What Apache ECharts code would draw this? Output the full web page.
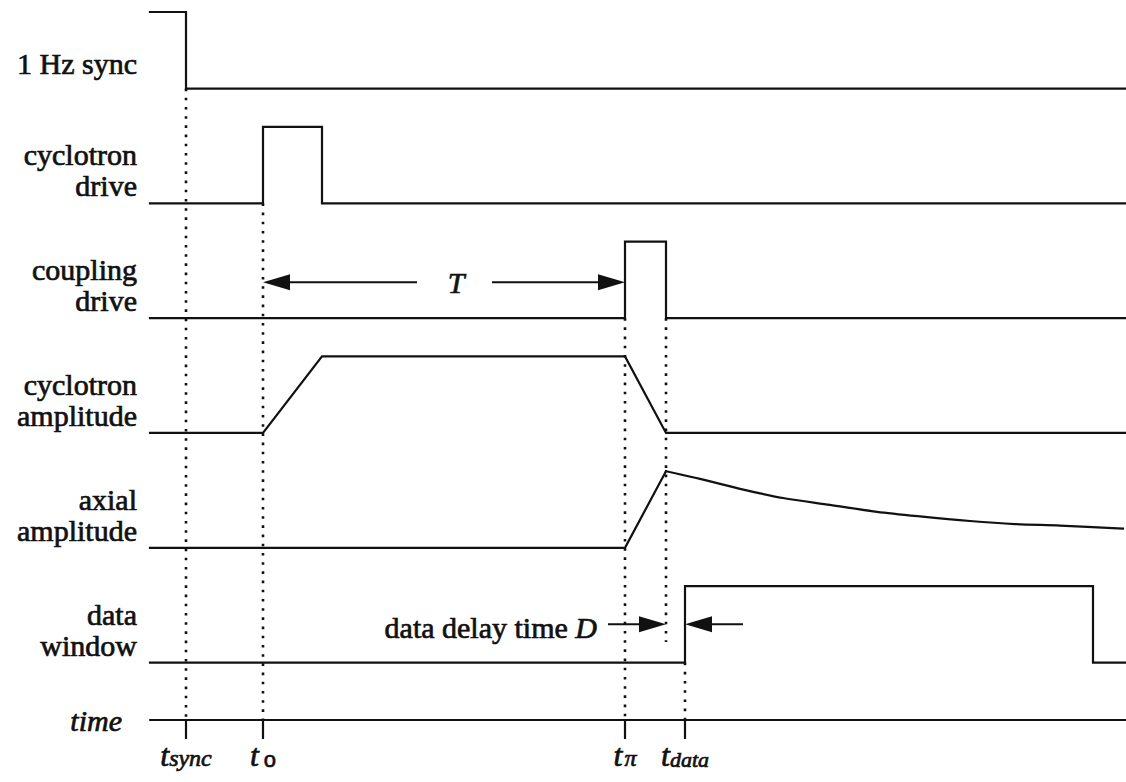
<!DOCTYPE html>
<html>
<head>
<meta charset="utf-8">
<title>Measurement timing sequence</title>
<script src="https://cdn.jsdelivr.net/npm/echarts@6/dist/echarts.min.js"></script>
<style>
  html, body { margin: 0; padding: 0; background: #fff; }
  #chart { width: 1126px; height: 782px; }
</style>
</head>
<body>
<div id="chart"></div>
<script>
// Time is in arbitrary units with t_sync = 0; each trace sits on its own baseline
// and swings one level unit between low and high.
const tStart = -3.6;
const tEnd = 94;

const trackNames = ['1 Hz sync', 'cyclotron\ndrive', 'coupling\ndrive', 'cyclotron\namplitude', 'axial\namplitude', 'data\nwindow'];
const trackBase = [0, -1.5, -3, -4.5, -6, -7.5];
const timeAxisLevel = -8.25;

// Marked instants on the time axis
const tickTimes = [0, 7.7, 43.9, 49.9];
const tickLabels = ['{t|t}{s|sync}', '{t|t}{o|o}', '{t|t}{p|π}', '{t|t}{d|data}'];

// Waveforms: [time, level] pairs relative to each trace baseline
const syncWave = [[-3.6, 1], [0, 1], [0, 0], [94, 0]];
const cycDriveWave = [[-3.6, 0], [7.7, 0], [7.7, 1], [13.6, 1], [13.6, 0], [94, 0]];
const coupDriveWave = [[-3.6, 0], [43.9, 0], [43.9, 1], [48.0, 1], [48.0, 0], [94, 0]];
const cycAmpWave = [[-3.6, 0], [7.7, 0], [13.6, 1], [43.9, 1], [48.0, 0], [94, 0]];
const axialRiseWave = [[-3.6, 0], [43.9, 0], [48.0, 1.0]];
const axialDecayWave = [[48.0, 1.0], [51.4, 0.90], [55.4, 0.77], [59.7, 0.65], [64.4, 0.56], [69.1, 0.47],
                        [73.4, 0.41], [78.4, 0.35], [82.9, 0.31], [87.4, 0.29], [93.7, 0.25]];
const dataWindowWave = [[-3.6, 0], [49.9, 0], [49.9, 1], [90.7, 1], [90.7, 0], [94, 0]];

// Dotted guides: [time, fromLevel, toLevel] in absolute levels
const guideLines = [[0, 0, -8.25], [7.7, -1.5, -8.25], [43.9, -3, -8.25], [48.0, -3, -7.23], [49.9, -7.5, -8.25]];

// Dimension arrows: [tailTime, tipTime, level]
const arrows = [[23.1, 7.7, -2.53], [30.6, 43.9, -2.53], [42.2, 48.0, -7.0], [55.7, 49.9, -7.0]];
// Annotation texts and their [time, level] anchors
const noteText = ['{i|T}', 'data delay time {i|D}'];
const notePos = [[27.0, -2.53], [41.1, -7.04]];

const INK = '#111';
const SERIF = 'Liberation Serif, Times New Roman, Times, serif';
const SANS = 'Liberation Sans, Arial, sans-serif';
// a faint outline in the ink colour gives the type a heavier, print-like weight
const HEAVY = { textBorderColor: INK, textBorderWidth: 0.7 };

function shift(wave, base) {
  return wave.map(p => [p[0], p[1] + base]);
}

function trace(name, data, smooth) {
  return {
    name: name,
    type: 'line',
    data: data,
    showSymbol: false,
    symbol: 'none',
    smooth: smooth || false,
    clip: false,
    silent: true,
    lineStyle: { color: INK, width: 2.2, cap: 'square', join: 'miter' }
  };
}

const series = [
  trace('sync', shift(syncWave, trackBase[0])),
  trace('cyclotron drive', shift(cycDriveWave, trackBase[1])),
  trace('coupling drive', shift(coupDriveWave, trackBase[2])),
  trace('cyclotron amplitude', shift(cycAmpWave, trackBase[3])),
  trace('axial rise', shift(axialRiseWave, trackBase[4])),
  trace('axial decay', shift(axialDecayWave, trackBase[4]), 0.3),
  trace('data window', shift(dataWindowWave, trackBase[5]))
];

guideLines.forEach((g, i) => {
  series.push({
    name: 'guide' + i,
    type: 'line',
    data: [[g[0], g[1]], [g[0], g[2]]],
    showSymbol: false,
    symbol: 'none',
    clip: false,
    silent: true,
    z: 1,
    lineStyle: { color: INK, width: 2.6, type: [2.6, 6.6], cap: 'butt' }
  });
});

series.push({
  name: 'arrows',
  type: 'custom',
  clip: false,
  silent: true,
  data: arrows,
  renderItem: function (params, api) {
    const a = api.coord([api.value(0), api.value(2)]);
    const b = api.coord([api.value(1), api.value(2)]);
    const dir = Math.sign(b[0] - a[0]);
    const L = 27, W = 8;
    return {
      type: 'group',
      children: [
        { type: 'line', shape: { x1: a[0], y1: a[1], x2: b[0] - dir * L * 0.6, y2: b[1] },
          style: { stroke: INK, lineWidth: 2 } },
        { type: 'polygon', shape: { points: [[b[0], b[1]], [b[0] - dir * L, b[1] - W], [b[0] - dir * L, b[1] + W]] },
          style: { fill: INK } }
      ]
    };
  }
});

series.push({
  name: 'notes',
  type: 'custom',
  clip: false,
  silent: true,
  data: notePos,
  renderItem: function (params, api) {
    const p = api.coord([api.value(0), api.value(1)]);
    const i = params.dataIndex;
    return {
      type: 'text',
      x: p[0],
      y: p[1],
      style: {
        text: noteText[i],
        fill: INK,
        stroke: INK,
        lineWidth: 0.7,
        fontFamily: SERIF,
        fontSize: 30,
        align: i === 0 ? 'center' : 'right',
        verticalAlign: 'middle',
        rich: {
          i: { fontFamily: SERIF, fontStyle: 'italic', fontSize: 30 }
        }
      }
    };
  }
});

const chart = echarts.init(document.getElementById('chart'), null, { renderer: 'svg' });
chart.setOption({
  backgroundColor: '#fff',
  animation: false,
  grid: { left: 150, right: 0, top: 12, bottom: 62, containLabel: false },
  xAxis: {
    type: 'value',
    min: tStart,
    max: tEnd,
    name: 'time',
    nameLocation: 'start',
    nameGap: 28,
    nameTextStyle: Object.assign({ fontFamily: SERIF, fontStyle: 'italic', fontSize: 30, color: INK, padding: [6, 0, 0, 0] }, HEAVY),
    axisLine: { show: true, onZero: false, lineStyle: { color: INK, width: 2.2 } },
    axisTick: { show: true, customValues: tickTimes, length: 19, inside: false, lineStyle: { color: INK, width: 2.2 } },
    splitLine: { show: false },
    axisLabel: {
      customValues: tickTimes,
      margin: 20,
      color: INK,
      formatter: function (v) {
        const i = tickTimes.indexOf(v);
        return i >= 0 ? tickLabels[i] : '';
      },
      rich: {
        t: Object.assign({ fontFamily: SERIF, fontStyle: 'italic', fontSize: 32, color: INK, lineHeight: 30 }, HEAVY),
        s: Object.assign({ fontFamily: SERIF, fontStyle: 'italic', fontSize: 24, color: INK, lineHeight: 10, verticalAlign: 'bottom' }, HEAVY),
        d: Object.assign({ fontFamily: SERIF, fontStyle: 'italic', fontSize: 22, color: INK, lineHeight: 12, verticalAlign: 'bottom' }, HEAVY),
        o: Object.assign({ fontFamily: SANS, fontSize: 22, color: INK, lineHeight: 12, verticalAlign: 'bottom', padding: [0, 0, 0, 5] }, HEAVY),
        p: Object.assign({ fontFamily: SERIF, fontStyle: 'italic', fontSize: 24, color: INK, lineHeight: 12, verticalAlign: 'bottom', padding: [0, 0, 0, 2] }, HEAVY)
      }
    }
  },
  yAxis: {
    type: 'value',
    min: timeAxisLevel,
    max: 1,
    axisLine: { show: false },
    axisTick: { show: false },
    splitLine: { show: false },
    axisLabel: Object.assign({
      customValues: trackBase,
      margin: 13,
      align: 'right',
      verticalAlign: 'bottom',
      fontFamily: SERIF,
      fontSize: 30,
      lineHeight: 31,
      color: INK,
      padding: [0, 0, 2, 0],
      formatter: function (v) {
        const i = trackBase.indexOf(v);
        if (i === 0) return '{sync|' + trackNames[0] + '}';
        return i >= 0 ? trackNames[i] : '';
      },
      rich: {
        sync: Object.assign({ fontFamily: SERIF, fontSize: 30, lineHeight: 31, color: INK, padding: [0, 0, 15, 0] }, HEAVY)
      }
    }, HEAVY)
  },
  series: series
});
</script>
</body>
</html>
